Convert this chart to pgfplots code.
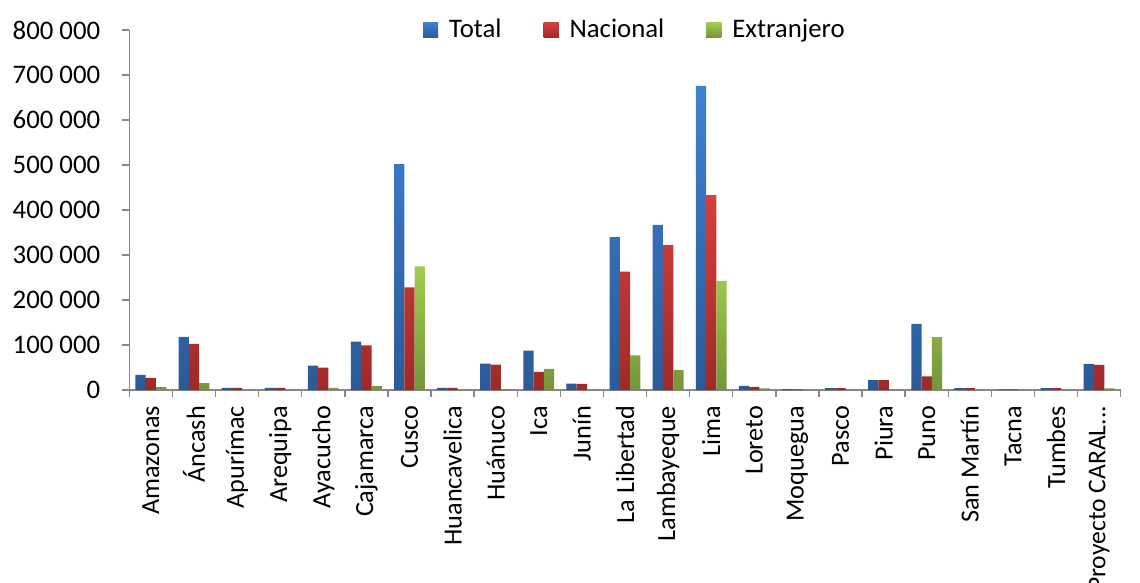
\documentclass[border=0pt]{standalone}
\usepackage{fontspec}
\setmainfont{Carlito}
\usepackage{pgfplots}
\usepackage{pgfplotstable}
\pgfplotsset{compat=1.18}

\definecolor{blueTop}{HTML}{3F81D4}
\definecolor{blueBot}{HTML}{2B5A98}
\definecolor{redTop}{HTML}{D4403D}
\definecolor{redBot}{HTML}{9E2A28}
\definecolor{greenTop}{HTML}{A3CC4D}
\definecolor{greenBot}{HTML}{75953A}
\definecolor{axisgray}{HTML}{888888}

% Visitantes por departamento: total, nacionales y extranjeros
\pgfplotstableread{
idx total  nacional extranjero
0   33500  27000    6500
1   118000 102500   15500
2   5000   4500     1000
3   5000   4500     1000
4   54000  49500    4500
5   107500 99000    8500
6   502000 228000   275000
7   5000   4500     1000
8   58500  56500    2000
9   87500  40500    47000
10  14000  13500    1000
11  340000 263000   77000
12  366700 322200   44400
13  675600 433300   242300
14  8900   6700     3500
15  1800   1500     500
16  4400   4000     800
17  22200  21800    1200
18  147000 30500    117500
19  4400   4000     800
20  1500   1300     400
21  4400   4000     800
22  57800  55600    3500
}\visitas

\newcommand{\lblfont}{\fontsize{13.4}{15.5}\selectfont}
\newcommand{\catfont}{\fontsize{13.1}{15.5}\selectfont}

\begin{document}
\begin{tikzpicture}
\begin{axis}[
  at={(0,0)}, anchor=south west,
  scale only axis, width=495.7pt, height=180pt,
  xmin=-0.5, xmax=22.5, ymin=0, ymax=800000,
  axis lines=left,
  axis line style={-, draw=axisgray, line width=0.7pt},
  tick align=outside,
  major tick length=3.5pt,
  tick style={draw=axisgray, line width=0.7pt},
  scaled y ticks=false,
  ytick={0,100000,200000,300000,400000,500000,600000,700000,800000},
  yticklabels={0,100 000,200 000,300 000,400 000,500 000,600 000,700 000,800 000},
  yticklabel style={font=\lblfont, xshift=-7.5pt},
  xtick={-0.5,0.5,...,22.5},
  xticklabels={},
  extra x ticks={0,1,...,22},
  extra x tick labels={Amazonas,Áncash,Apurímac,Arequipa,Ayacucho,Cajamarca,Cusco,Huancavelica,Huánuco,Ica,Junín,La Libertad,Lambayeque,Lima,Loreto,Moquegua,Pasco,Piura,Puno,San Martín,Tacna,Tumbes,{\fontsize{12.8}{15}\selectfont Proyecto CARAL.{}.{}.}},
  extra x tick style={major tick length=0pt,
    tick label style={font=\catfont, rotate=90, anchor=east, inner xsep=7.8pt}},
  legend style={at={(0.511,1)}, anchor=center, draw=none, fill=none,
    legend columns=3, font=\lblfont,
    /tikz/every odd column/.append style={column sep=3.5pt},
    /tikz/every even column/.append style={column sep=19pt}},
  legend image code/.code={\fill[#1] (0pt,-3.75pt) rectangle (7.5pt,3.75pt);},
  clip=false,
]
\addplot[ybar, bar width=5.15pt, bar shift=-5.15pt, draw=none,
  top color=blueTop, bottom color=blueBot]
  table[x=idx, y=total]{\visitas};
\addplot[ybar, bar width=5.15pt, bar shift=0pt, draw=none,
  top color=redTop, bottom color=redBot]
  table[x=idx, y=nacional]{\visitas};
\addplot[ybar, bar width=5.15pt, bar shift=5.15pt, draw=none,
  top color=greenTop, bottom color=greenBot]
  table[x=idx, y=extranjero]{\visitas};
\legend{Total,Nacional,Extranjero}
\end{axis}
\pgfresetboundingbox
\path (-64.65pt,-96.5pt) rectangle (505.35pt,195pt);
\end{tikzpicture}
\end{document}
